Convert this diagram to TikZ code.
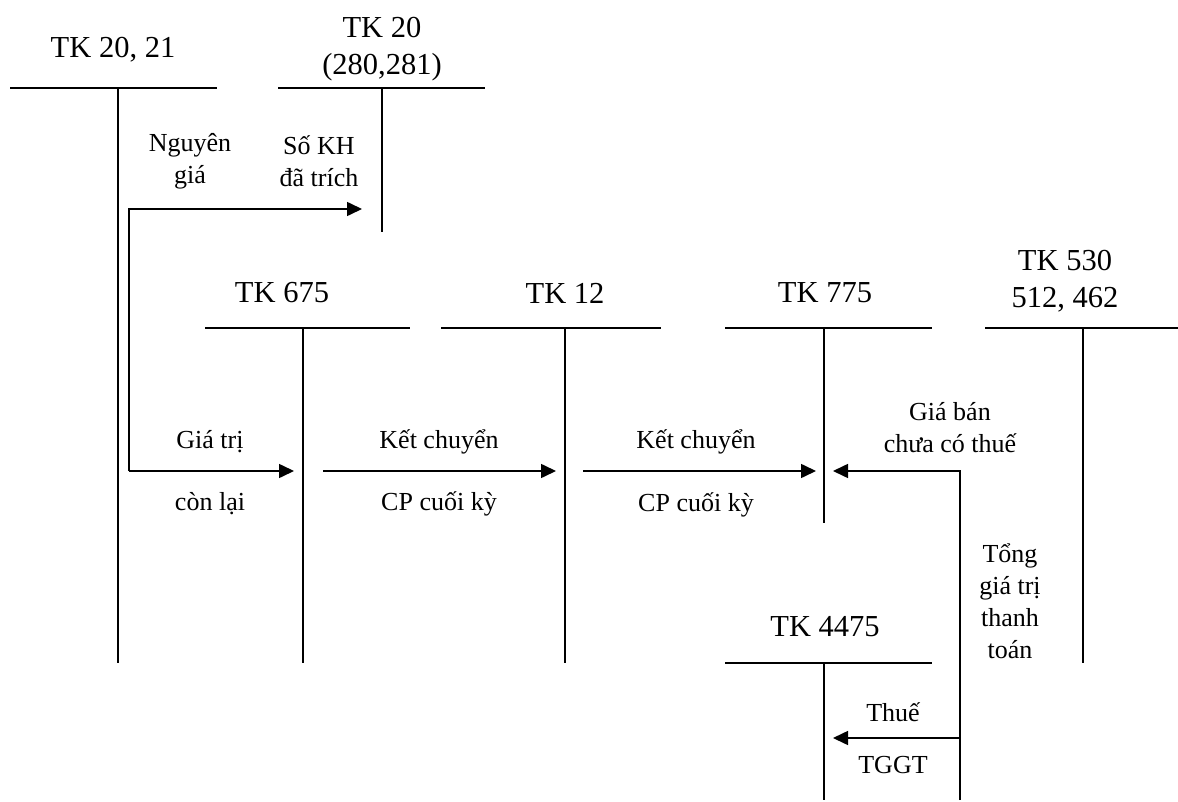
\documentclass[tikz,border=0pt]{standalone}
\usepackage{fontspec}
\setmainfont{Liberation Serif}
\usetikzlibrary{arrows.meta}
\tikzset{
  big/.style={font=\fontsize{30.5}{37}\selectfont, align=center, inner sep=0pt},
  small/.style={font=\fontsize{26}{32}\selectfont, align=center, inner sep=0pt},
  acc/.style={line width=1.6pt},
  conn/.style={line width=1.6pt, -{Triangle[length=15pt,width=14pt]}},
}
\begin{document}
\begin{tikzpicture}[x=1pt,y=-1pt]
\useasboundingbox (0,0) rectangle (1178,802);
% T-accounts
\node[big] (t1) at (113,50) {TK 20, 21};
\draw[acc] (10,88) -- (217,88) (118,88) -- (118,663);
\node[big] (t2) at (382,49) {TK 20\\(280,281)};
\draw[acc] (278,88) -- (485,88) (382,88) -- (382,232);
\node[big] (t3) at (282,293) {TK 675};
\draw[acc] (205,328) -- (410,328) (303,328) -- (303,663);
\node[big] (t4) at (565,293) {TK 12};
\draw[acc] (441,328) -- (661,328) (565,328) -- (565,663);
\node[big] (t5) at (825,293) {TK 775};
\draw[acc] (725,328) -- (932,328) (824,328) -- (824,523);
\node[big] (t6) at (1065,281) {TK 530\\512, 462};
\draw[acc] (985,328) -- (1178,328) (1083,328) -- (1083,663);
\node[big] (t7) at (825,627) {TK 4475};
\draw[acc] (725,663) -- (932,663) (824,663) -- (824,800);
% connector coordinates
\coordinate (a1s) at (129,471);
\coordinate (a1c) at (129,209);
\coordinate (a1e) at (362,209);
\coordinate (a2e) at (294,471);
\coordinate (b1s) at (323,471);
\coordinate (b1e) at (556,471);
\coordinate (c1s) at (583,471);
\coordinate (c1e) at (816,471);
\coordinate (d1s) at (960,800);
\coordinate (d1c) at (960,471);
\coordinate (d1e) at (833,471);
\coordinate (d2s) at (960,738);
\coordinate (d2e) at (833,738);
% connectors
\draw[conn] (a1s) -- (a1c) -- (a1e);
\draw[conn] (a1s) -- (a2e);
\draw[conn] (b1s) -- (b1e);
\draw[conn] (c1s) -- (c1e);
\draw[conn] (d1s) -- (d1c) -- (d1e);
\draw[conn] (d2s) -- (d2e);
% labels
\node[small] (l1) at (190,161) {Nguyên\\giá};
\node[small] (l2) at (319,161) {Số KH\\đã trích};
\node[small] (l3) at (210,442) {Giá trị};
\node[small] (l4) at (210,504) {còn lại};
\node[small] (l5) at (439,442) {Kết chuyển};
\node[small] (l6) at (439,504) {CP cuối kỳ};
\node[small] (l7) at (696,442) {Kết chuyển};
\node[small] (l8) at (696,505) {CP cuối kỳ};
\node[small] (l9) at (950,428) {Giá bán\\chưa có thuế};
\node[small] (l10) at (1010,601) {Tổng\\giá trị\\thanh\\toán};
\node[small] (l11) at (893,712) {Thuế};
\node[small] (l12) at (893,765) {TGGT};
\end{tikzpicture}
\end{document}
